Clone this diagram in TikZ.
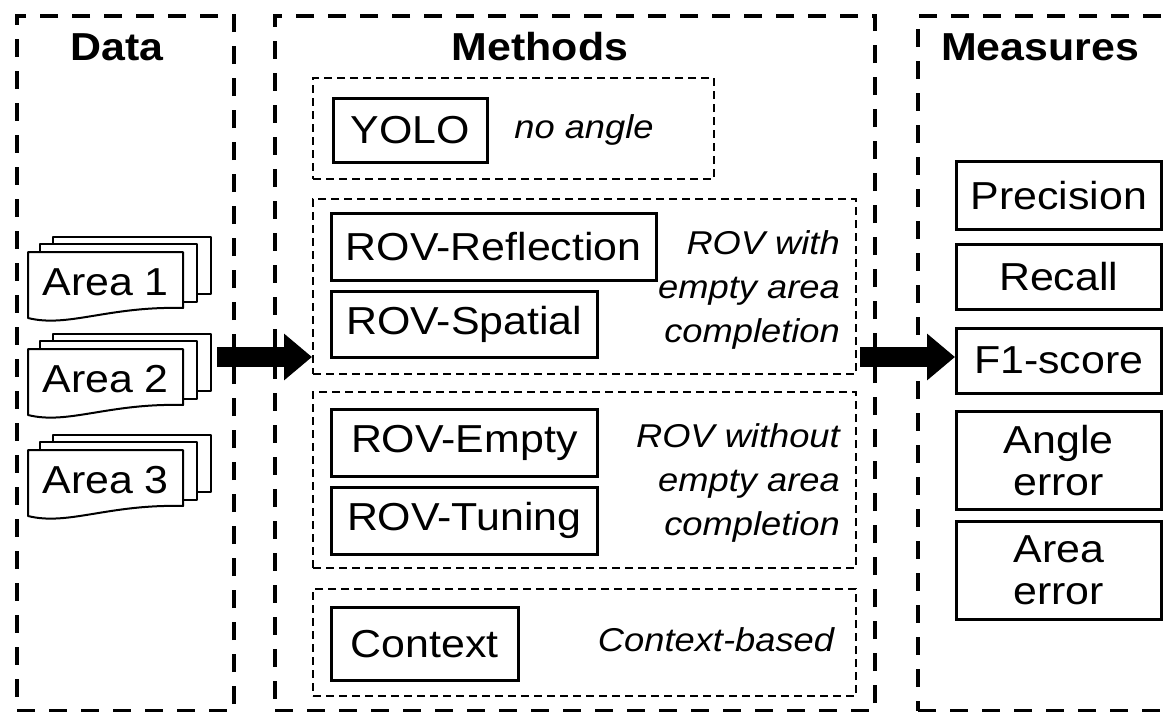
\documentclass[tikz,border=0pt]{standalone}
\usepackage{fontspec}
\setmainfont{Liberation Sans}[FakeStretch=1.1]
\usetikzlibrary{arrows.meta,calc}
\newcommand\mainsz{\fontsize{39}{42}\selectfont}
\newcommand\notesz{\fontsize{33}{44}\selectfont}
\begin{document}
\begin{tikzpicture}[x=1pt,y=-1pt,
  outer/.style={draw, line width=4, dash pattern=on 18 off 14, anchor=north west, inner sep=0},
  grp/.style={draw, line width=2, dash pattern=on 8 off 5, anchor=north west, inner sep=0},
  box/.style={draw, line width=2.5, anchor=north west, inner sep=0, font=\mainsz, align=center},
  note/.style={font=\notesz\itshape, align=right, inner sep=0},
  ttl/.style={font=\mainsz\bfseries, inner sep=0},
  docl/.style={draw, line width=2, fill=white, line join=round},
  doctxt/.style={anchor=north west, minimum width=155, minimum height=60, inner sep=0, font=\mainsz},
  bigarrow/.style={line width=20, -{Triangle[length=28pt,width=45pt]}}]
\useasboundingbox (0,0) rectangle (1171,712);
\fill[white] (0,0) rectangle (1171,712);

% panels
\node[outer, minimum width=217, minimum height=695] (datap) at (15,14) {};
\node[outer, minimum width=600, minimum height=695] (methp) at (273,14) {};
\node[outer, minimum width=270, minimum height=695] (measp) at (916,14) {};
\node[ttl] (tdata) at (117,47) {Data};
\node[ttl] (tmeth) at (540,47) {Methods};
\node[ttl] (tmeas) at (1040,47) {Measures};

% groups
\node[grp, minimum width=401, minimum height=101] (gyolo) at (312,77) {};
\node[grp, minimum width=543, minimum height=175] (gwith) at (312,198) {};
\node[grp, minimum width=543, minimum height=176] (gwithout) at (312,391) {};
\node[grp, minimum width=543, minimum height=107] (gctx) at (312,588) {};

% method boxes
\node[box, minimum width=154, minimum height=64] (yolo) at (332,97) {YOLO};
\node[box, minimum width=325, minimum height=67] (refl) at (330,212) {ROV-Reflection};
\node[box, minimum width=266, minimum height=66] (spat) at (330,290) {ROV-Spatial};
\node[box, minimum width=266, minimum height=67] (empt) at (330,408) {ROV-Empty};
\node[box, minimum width=266, minimum height=67] (tune) at (330,486) {ROV-Tuning};
\node[box, minimum width=187, minimum height=73] (ctx) at (330,606) {Context};

% notes
\node[note] (nyolo) at (584,130) {no angle};
\node[note, anchor=east] (nwith) at (840,290) {ROV with\\empty area\\completion};
\node[note, anchor=east] (nwithout) at (840,483) {ROV without\\empty area\\completion};
\node[note] (nctx) at (716,640) {Context-based};

% measures
\node[box, minimum width=205, minimum height=68] (prec) at (955,160) {Precision};
\node[box, minimum width=205, minimum height=65] (rec) at (955,243) {Recall};
\node[box, minimum width=205, minimum height=65] (f1) at (955,327) {F1-score};
\node[box, minimum width=205, minimum height=98] (angle) at (955,410) {Angle\\error};
\node[box, minimum width=205, minimum height=98] (aerr) at (955,520) {Area\\error};

% data stacks
\foreach \nm/\yy/\lab in {a1/252/Area 1, a2/349/Area 2, a3/450/Area 3}{
  \begin{scope}[shift={(28,\yy)}]
    \draw[docl] (25,-15) rectangle (183,42);
    \draw[docl] (12,-8) rectangle (169,50);
    \draw[docl] (0,0) -- (155,0) -- (155,56) .. controls (80,54) and (40,76) .. (0,66) -- cycle;
  \end{scope}
  \node[doctxt] (\nm) at (28,\yy) {\lab};
}

% arrows
\coordinate (dout) at (217,357);
\coordinate (mout) at (860,357);
\draw[bigarrow] (dout) -- (gwith.west |- dout);
\draw[bigarrow] (mout) -- (f1.west |- mout);
\end{tikzpicture}
\end{document}
